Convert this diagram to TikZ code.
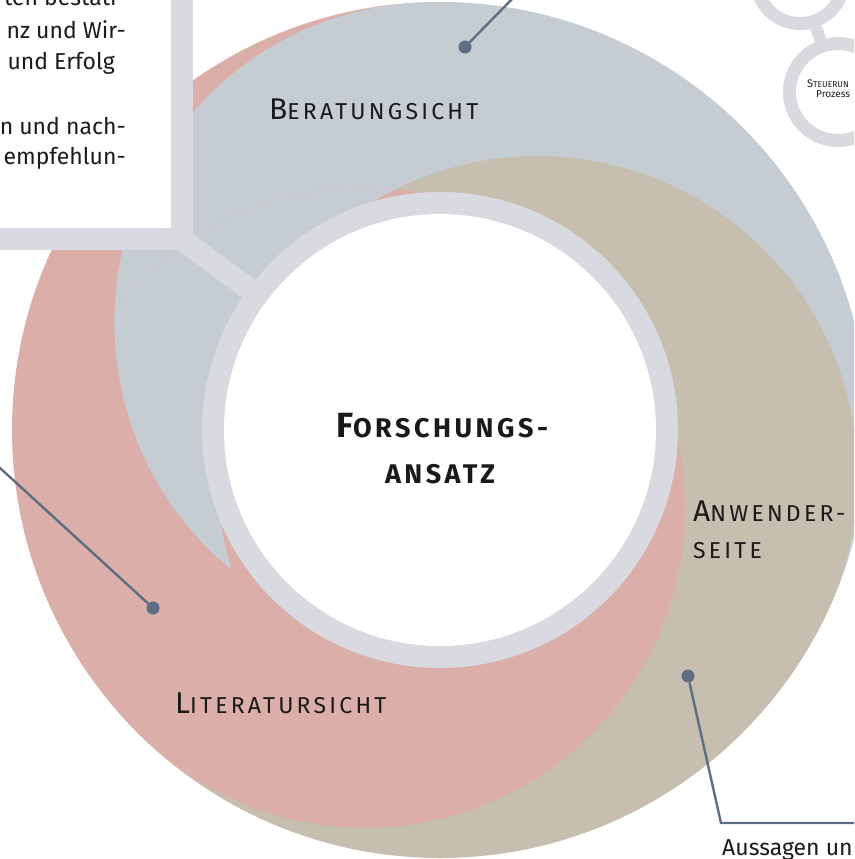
\documentclass[tikz,border=0pt]{standalone}
\usepackage{fontspec}
\setmainfont{Fira Sans}
\newfontfamily\labfont[LetterSpace=14]{Fira Sans}
\newfontfamily\cenfont[LetterSpace=13]{Fira Sans}
\definecolor{cRed}{HTML}{DBAEAA}
\definecolor{cBlue}{HTML}{C5CDD2}
\definecolor{cTan}{HTML}{C6BEAE}
\definecolor{cRing}{HTML}{D8DADF}
\definecolor{cLine}{HTML}{5E6E82}
\definecolor{cText}{HTML}{1A1A1A}
\newcommand{\capsl}[2]{{\fontsize{30pt}{30pt}\selectfont #1}{\fontsize{23pt}{23pt}\selectfont #2}}
\newcommand{\capsb}[2]{{\fontsize{35pt}{35pt}\selectfont #1}{\fontsize{27pt}{27pt}\selectfont #2}}
\begin{document}
\begin{tikzpicture}[x=1pt,y=-1pt,
  dot/.style={circle,fill=cLine,inner sep=0pt,minimum size=13pt},
  callout/.style={draw=cLine,line width=2.4pt},
  lab/.style={font=\labfont, text=cText, inner sep=0pt},
  cen/.style={font=\cenfont\bfseries, text=cText, inner sep=0pt},
  body/.style={font=\fontsize{23pt}{32pt}\selectfont, inner sep=0pt, text=cText},
  ringband/.style={draw=cRing,line width=22pt},
  smallring/.style={circle,draw=cRing,line width=13pt,inner sep=0pt},
]
\useasboundingbox (0,0) rectangle (854,859);
\clip (0,0) rectangle (854,859);
\coordinate (O) at (440,430);
% outer slivers
\begin{scope}
  \clip (440,430) circle[radius=428pt];
  \begin{scope}[shift={(440,430)}]
    \fill[cRed] (0,0) -- (134:900) -- (180:900) -- (225:900) -- (267:900) -- cycle;
    \fill[cTan] (0,0) -- (25.3:900) -- (80:900) -- (134:900) -- cycle;
    \fill[cBlue] (0,0) -- (267:900) -- (320:900) -- (25.3:900) -- cycle;
  \end{scope}
\end{scope}
% three disks, cyclic overlap
\fill[cBlue] (434.4,322.2) circle[radius=320pt];
\fill[cTan] (537.6,476.1) circle[radius=320pt];
\fill[cRed] (365,507.7) circle[radius=320pt];
\begin{scope}
  \clip (434.4,322.2) circle[radius=320pt];
  \clip (365,507.7) circle[radius=320pt];
  \fill[cBlue,even odd rule] (0,0) rectangle (854,859) (537.6,476.1) circle[radius=320pt];
\end{scope}
% text box with frame
\fill[white] (-20,-20) rectangle (171,228);
\draw[ringband] (181.5,-30) -- (181.5,239) -- (-30,239);
\draw[ringband] (181.5,239) -- (O);
% central circle
\fill[cRing] (O) circle[radius=238pt];
\node[circle,fill=white,minimum size=432pt,inner sep=0pt] (core) at (O) {};
\node[cen,anchor=base] (t1) at (442,437) {\capsb{F}{ORSCHUNGS-}};
\node[cen,anchor=base] (t2) at (440,483) {\capsb{}{ANSATZ}};
% labels
\node[lab,anchor=base west] (lb) at (269,119) {\capsl{B}{ERATUNGSICHT}};
\node[lab,anchor=base west] (ll) at (175,713) {\capsl{L}{ITERATURSICHT}};
\node[lab,anchor=base west] (la1) at (693,521) {\capsl{A}{NWENDER-}};
\node[lab,anchor=base west] (la2) at (693,558) {\capsl{}{SEITE}};
% box text
\node[body,anchor=base east] (b1) at (126,6) {ten bestäti-};
\node[body,anchor=base east] (b2) at (126,38) {nz und Wir-};
\node[body,anchor=base east] (b3) at (115,70) {und Erfolg};
\node[body,anchor=base east] (b4) at (126,134) {n und nach-};
\node[body,anchor=base east] (b5) at (126,164) {empfehlun-};
% callouts
\node[dot] (d1) at (465,47) {};
\coordinate (e1) at (516,-5);
\draw[callout] (d1) -- (e1);
\node[dot] (d2) at (153,608) {};
\coordinate (e2) at (-5,463.4);
\draw[callout] (d2) -- (e2);
\node[dot] (d3) at (688,676) {};
\coordinate (k3) at (721,823);
\coordinate (e3) at (870,823);
\draw[callout] (d3) -- (k3) -- (e3);
\node[body,anchor=base west] (aus) at (722,855) {Aussagen un};
% small circles top right
\node[smallring,minimum size=97pt] (low) at (838,92) {};
\node[smallring,minimum size=87pt] (up) at (800,-20) {};
\draw[cRing,line width=12pt] (low) -- (up);
\node[inner sep=0pt,anchor=base west,text=cText] (s1) at (807,87) {{\fontsize{11pt}{11pt}\selectfont S}{\fontsize{8.5pt}{8.5pt}\selectfont TEUERUN}};
\node[inner sep=0pt,anchor=base west,text=cText,font=\fontsize{10pt}{10pt}\selectfont] (s2) at (816,97) {Prozess};
\end{tikzpicture}
\end{document}
